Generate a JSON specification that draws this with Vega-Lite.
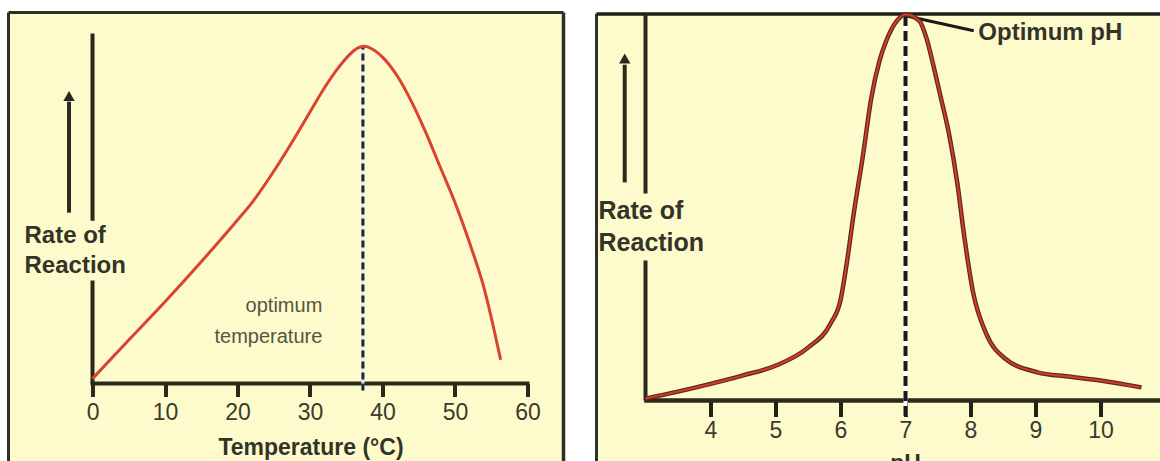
{
  "$schema": "https://vega.github.io/schema/vega-lite/v6.json",
  "autosize": {"type": "pad"},
  "padding": {"left": 6.5, "top": 5.5, "right": 0, "bottom": 0},
  "background": "white",
  "spacing": 33,
  "bounds": "flush",
  "config": {"view": {"stroke": null, "fill": "#fdfbcc"}, "font": "Liberation Sans"},
  "hconcat": [
    {
      "width": 555,
      "height": 449,
      "layer": [
        {"data": {"values": [{}]}, "mark": {"type": "rule", "color": "#2f2f27", "strokeWidth": 3},
         "encoding": {"x": {"datum": -11.59}, "y": {"datum": -22.41, "axis": null}, "y2": {"datum": 106.61}}},
        {"data": {"values": [{}]}, "mark": {"type": "rule", "color": "#2f2f27", "strokeWidth": 3},
         "encoding": {"x": {"datum": -11.59}, "x2": {"datum": 64.97}, "y": {"datum": 106.61, "axis": null}}},
        {"data": {"values": [{}]}, "mark": {"type": "rule", "color": "#2f2f27", "strokeWidth": 3.5},
         "encoding": {"x": {"datum": 64.97}, "y": {"datum": -22.41, "axis": null}, "y2": {"datum": 106.61}}},
        {"data": {"values": [{}]}, "mark": {"type": "rule", "color": "#2a2a1c", "strokeWidth": 4},
         "encoding": {"x": {"datum": 0}, "y": {"datum": 0, "axis": null}, "y2": {"datum": 29.6}}},
        {"data": {"values": [{}]}, "mark": {"type": "rule", "color": "#2a2a1c", "strokeWidth": 4},
         "encoding": {"x": {"datum": 0}, "y": {"datum": 46.8, "axis": null}, "y2": {"datum": 100.6}}},
        {"data": {"values": [{}]}, "mark": {"type": "rule", "color": "#2a2a1c", "strokeWidth": 4, "strokeCap": "square"},
         "encoding": {"x": {"datum": 0}, "x2": {"datum": 60}, "y": {"datum": 0, "axis": null}}},
        {"data": {"values": [{}]}, "mark": {"type": "rule", "color": "#2a2a1c", "strokeWidth": 4},
         "encoding": {"x": {"datum": -3.24}, "y": {"datum": 49.1, "axis": null}, "y2": {"datum": 81}}},
        {"data": {"values": [{}]}, "mark": {"type": "point", "shape": "triangle-up", "filled": true, "color": "#2a2a1c", "size": 130, "opacity": 1},
         "encoding": {"x": {"datum": -3.24}, "y": {"datum": 82.6, "axis": null}}},
        {"data": {"values": [{}]}, "mark": {"type": "text", "text": ["Rate of", "Reaction"], "align": "left", "baseline": "middle", "fontSize": 24, "fontWeight": "bold", "lineHeight": 30, "color": "#333328"},
         "encoding": {"x": {"datum": -9.38}, "y": {"datum": 42.5, "axis": null}}},
        {"data": {"values": [{}]}, "mark": {"type": "rule", "color": "#e2f0ee", "strokeWidth": 3},
         "encoding": {"x": {"datum": 37.3}, "y": {"datum": -2, "axis": null}, "y2": {"datum": 97}}},
        {"data": {"values": [{}]}, "mark": {"type": "rule", "color": "#1c2540", "strokeWidth": 3, "strokeDash": [7, 4]},
         "encoding": {"x": {"datum": 37.3}, "y": {"datum": -2, "axis": null}, "y2": {"datum": 97}}},
        {"data": {"values": [{}]}, "mark": {"type": "text", "text": ["optimum", "temperature"], "align": "right", "baseline": "middle", "fontSize": 20, "lineHeight": 31, "color": "#55553f"},
         "encoding": {"x": {"datum": 31.7}, "y": {"datum": 22.4, "axis": null}}},
        {
          "data": {"values": [
            {"t": 0, "rate": 1.4}, {"t": 5, "rate": 12.5}, {"t": 10, "rate": 23.5}, {"t": 15, "rate": 35},
            {"t": 20, "rate": 47}, {"t": 22, "rate": 52}, {"t": 25, "rate": 61}, {"t": 28, "rate": 71},
            {"t": 30, "rate": 78}, {"t": 32, "rate": 85}, {"t": 34, "rate": 91}, {"t": 35.5, "rate": 94.6},
            {"t": 36.5, "rate": 96.3}, {"t": 37.5, "rate": 96.9}, {"t": 38.5, "rate": 96.2}, {"t": 40, "rate": 93.8},
            {"t": 42, "rate": 88.5}, {"t": 44, "rate": 81}, {"t": 46, "rate": 72}, {"t": 48, "rate": 62},
            {"t": 50, "rate": 52}, {"t": 52, "rate": 40.5}, {"t": 54, "rate": 27.5}, {"t": 56.3, "rate": 6.8}
          ]},
          "mark": {"type": "line", "color": "#d9432f", "strokeWidth": 3, "interpolate": "monotone"},
          "encoding": {
            "x": {"field": "t", "type": "quantitative", "scale": {"domain": [-11.59, 64.97], "nice": false, "zero": false},
              "axis": {"values": [0, 10, 20, 30, 40, 50, 60], "format": "d", "offset": -78, "domain": false, "grid": false, "ticks": true,
                "tickSize": 13, "tickWidth": 4, "tickColor": "#2a2a1c", "labelFontSize": 23, "labelColor": "#3a3a2e",
                "labelPadding": 5, "title": "Temperature (°C)", "titleFontSize": 23, "titleFontWeight": "bold",
                "titleColor": "#333328", "titlePadding": 12, "titleX": 302, "titleAlign": "center"}},
            "y": {"field": "rate", "type": "quantitative", "scale": {"domain": [-22.41, 106.61], "nice": false, "zero": false}, "axis": null}
          }
        }
      ]
    },
    {
      "width": 564,
      "height": 449,
      "layer": [
        {"data": {"values": [{}]}, "mark": {"type": "rule", "color": "#2f2f27", "strokeWidth": 3},
         "encoding": {"x": {"datum": 2.246}, "y": {"datum": -15.8, "axis": null}, "y2": {"datum": 100.2}}},
        {"data": {"values": [{}]}, "mark": {"type": "rule", "color": "#1f1f18", "strokeWidth": 3.5},
         "encoding": {"x": {"datum": 2.246}, "x2": {"datum": 10.923}, "y": {"datum": 100.1, "axis": null}}},
        {"data": {"values": [{}]}, "mark": {"type": "rule", "color": "#2a2a1c", "strokeWidth": 4},
         "encoding": {"x": {"datum": 3}, "y": {"datum": 0, "axis": null}, "y2": {"datum": 36.3}}},
        {"data": {"values": [{}]}, "mark": {"type": "rule", "color": "#2a2a1c", "strokeWidth": 4},
         "encoding": {"x": {"datum": 3}, "y": {"datum": 53.6, "axis": null}, "y2": {"datum": 100}}},
        {"data": {"values": [{}]}, "mark": {"type": "rule", "color": "#2a2a1c", "strokeWidth": 4.5},
         "encoding": {"x": {"datum": 2.98}, "x2": {"datum": 10.923}, "y": {"datum": 0, "axis": null}}},
        {"data": {"values": [{}]}, "mark": {"type": "rule", "color": "#2a2a1c", "strokeWidth": 4},
         "encoding": {"x": {"datum": 2.68}, "y": {"datum": 56.5, "axis": null}, "y2": {"datum": 87}}},
        {"data": {"values": [{}]}, "mark": {"type": "point", "shape": "triangle-up", "filled": true, "color": "#2a2a1c", "size": 130, "opacity": 1},
         "encoding": {"x": {"datum": 2.68}, "y": {"datum": 88.6, "axis": null}}},
        {"data": {"values": [{}]}, "mark": {"type": "text", "text": ["Rate of", "Reaction"], "align": "left", "baseline": "middle", "fontSize": 25, "fontWeight": "bold", "lineHeight": 32, "color": "#333328"},
         "encoding": {"x": {"datum": 2.277}, "y": {"datum": 49.2, "axis": null}}},
        {"data": {"values": [{}]}, "mark": {"type": "rule", "color": "#ffffff", "strokeWidth": 4},
         "encoding": {"x": {"datum": 7}, "y": {"datum": -4, "axis": null}, "y2": {"datum": 100}}},
        {"data": {"values": [{}]}, "mark": {"type": "rule", "color": "#1a1a1a", "strokeWidth": 4, "strokeDash": [10, 5]},
         "encoding": {"x": {"datum": 7}, "y": {"datum": -4, "axis": null}, "y2": {"datum": 100}}},
        {"data": {"values": [{}]}, "mark": {"type": "rule", "color": "#1a1a1a", "strokeWidth": 3},
         "encoding": {"x": {"datum": 7.02}, "x2": {"datum": 8.05}, "y": {"datum": 99.6, "axis": null}, "y2": {"datum": 95.8}}},
        {"data": {"values": [{}]}, "mark": {"type": "text", "text": "Optimum pH", "align": "left", "baseline": "middle", "fontSize": 24, "fontWeight": "bold", "color": "#333328"},
         "encoding": {"x": {"datum": 8.12}, "y": {"datum": 95.1, "axis": null}}},
        {"data": {"values": [{}]}, "mark": {"type": "text", "text": "pH", "align": "center", "baseline": "top", "fontSize": 23, "fontWeight": "bold", "color": "#333328", "clip": true},
         "encoding": {"x": {"datum": 7}, "y": {"datum": -13.5, "axis": null}}},
        {
          "data": {"values": [
            {"ph": 3.0, "rate": 0.5}, {"ph": 3.5, "rate": 2.3}, {"ph": 4.0, "rate": 4.3}, {"ph": 4.5, "rate": 6.5},
            {"ph": 5.0, "rate": 9.0}, {"ph": 5.5, "rate": 13.7}, {"ph": 5.85, "rate": 20}, {"ph": 6.0, "rate": 26},
            {"ph": 6.1, "rate": 36}, {"ph": 6.2, "rate": 48}, {"ph": 6.35, "rate": 64}, {"ph": 6.47, "rate": 78},
            {"ph": 6.6, "rate": 88}, {"ph": 6.7, "rate": 93}, {"ph": 6.87, "rate": 98.4}, {"ph": 7.0, "rate": 100},
            {"ph": 7.21, "rate": 98.4}, {"ph": 7.32, "rate": 94}, {"ph": 7.44, "rate": 86}, {"ph": 7.55, "rate": 78},
            {"ph": 7.67, "rate": 69}, {"ph": 7.8, "rate": 56}, {"ph": 7.9, "rate": 43}, {"ph": 8.04, "rate": 28},
            {"ph": 8.24, "rate": 17.4}, {"ph": 8.52, "rate": 11}, {"ph": 9.03, "rate": 7.3}, {"ph": 9.5, "rate": 6.2},
            {"ph": 10.0, "rate": 5.2}, {"ph": 10.63, "rate": 3.4}
          ]},
          "layer": [
            {"mark": {"type": "line", "color": "#5a2b1e", "strokeWidth": 4.5, "interpolate": "monotone"}},
            {"mark": {"type": "line", "color": "#d63a2a", "strokeWidth": 2, "interpolate": "monotone"}}
          ],
          "encoding": {
            "x": {"field": "ph", "type": "quantitative", "scale": {"domain": [2.246, 10.923], "nice": false, "zero": false},
              "axis": {"values": [4, 5, 6, 7, 8, 9, 10], "format": "d", "offset": -61, "domain": false, "grid": false, "ticks": true,
                "tickSize": 16, "tickWidth": 4, "tickColor": "#222218", "labelFontSize": 23, "labelColor": "#3a3a2e",
                "labelPadding": 3, "title": null}},
            "y": {"field": "rate", "type": "quantitative", "scale": {"domain": [-15.8, 100.52], "nice": false, "zero": false}, "axis": null}
          }
        }
      ]
    }
  ]
}
